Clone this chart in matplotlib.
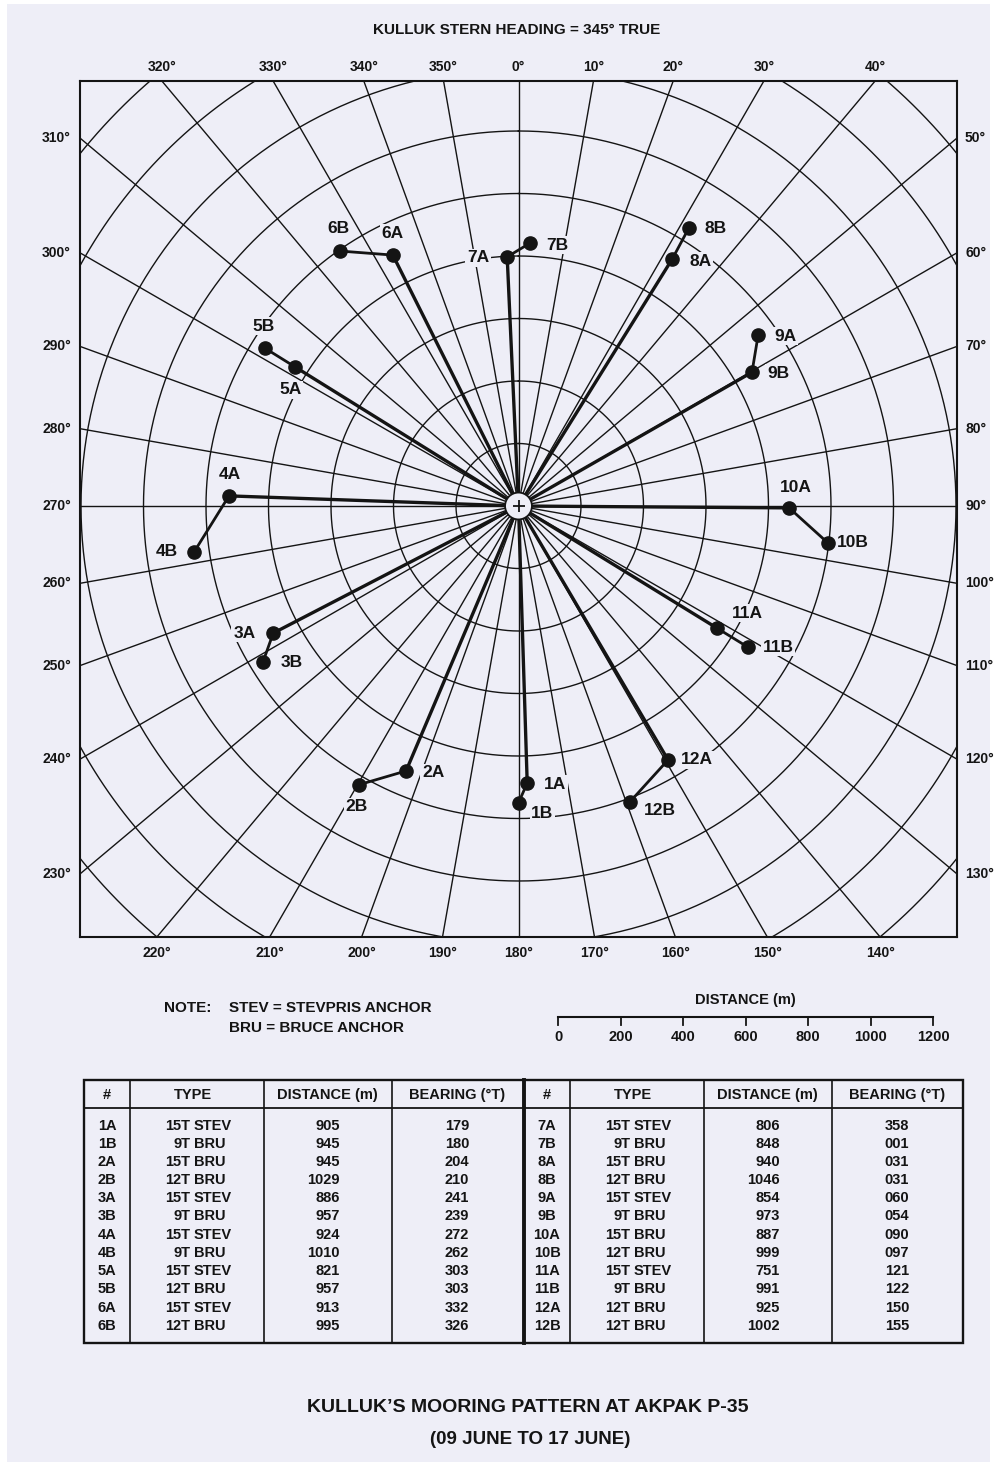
import numpy as np
import matplotlib.pyplot as plt
from matplotlib.patches import Rectangle, Circle

plt.rcParams['font.family'] = ['Liberation Sans', 'DejaVu Sans']

W, H = 997, 1468
bg = '#eeeef7'
ink = '#141414'

# anchor table (as printed)
ids = ['1A', '1B', '2A', '2B', '3A', '3B', '4A', '4B', '5A', '5B', '6A', '6B',
       '7A', '7B', '8A', '8B', '9A', '9B', '10A', '10B', '11A', '11B', '12A', '12B']
types = ['15T STEV', '9T BRU', '15T BRU', '12T BRU', '15T STEV', '9T BRU',
         '15T STEV', '9T BRU', '15T STEV', '12T BRU', '15T STEV', '12T BRU',
         '15T STEV', '9T BRU', '15T BRU', '12T BRU', '15T STEV', '9T BRU',
         '15T BRU', '12T BRU', '15T STEV', '9T BRU', '12T BRU', '12T BRU']
table_dist = [905, 945, 945, 1029, 886, 957, 924, 1010, 821, 957, 913, 995,
              806, 848, 940, 1046, 854, 973, 887, 999, 751, 991, 925, 1002]
table_brg = [179, 180, 204, 210, 241, 239, 272, 262, 303, 303, 332, 326,
             358, 1, 31, 31, 60, 54, 90, 97, 121, 122, 150, 155]

# anchor positions as drawn on the chart (metres, degrees true)
plot_dist = [887, 950, 921, 1028, 884, 958, 927, 1049, 842, 956, 898, 996,
             798, 842, 931, 1044, 942, 861, 866, 997, 746, 862, 943, 1012]
plot_brg = [178.2, 180.0, 203.0, 209.8, 242.6, 238.6, 272.0, 261.9, 301.9, 301.9, 333.4, 325.0,
            357.4, 2.5, 31.9, 31.5, 54.5, 60.2, 90.4, 96.8, 121.6, 121.6, 149.5, 159.4]

# label offsets in pixels (x right, y up)
label_off = [(28, -1), (24, -11), (27, -2), (-2, -22), (-29, 0), (29, -1),
             (1, 21), (-27, 1), (-5, -23), (-1, 22), (0, 22), (-2, 23),
             (-29, -1), (27, -2), (28, -2), (27, -1), (27, -1), (26, -1),
             (7, 20), (25, 0), (30, 15), (30, 0), (29, 0), (30, -8)]

grid_brg = list(range(0, 360, 10))
ring_dist = list(range(200, 2001, 200))
scale_ticks = [0, 200, 400, 600, 800, 1000, 1200]

px = 0.3125          # pixels per metre
cx, cy = 518.5, 506  # chart centre in pixels
ax_l, ax_r, ax_t, ax_b = 80, 957, 81, 937

fig = plt.figure(figsize=(W / 100, H / 100), dpi=100)
fig.patch.set_facecolor('white')

# overlay in pixel coordinates for page, notes, table
ov = fig.add_axes([0, 0, 1, 1])
ov.set_xlim(0, W)
ov.set_ylim(H, 0)
ov.axis('off')
ov.set_zorder(0)
ov.add_patch(Rectangle((7, 4), 983, 1458, fc=bg, ec='none', zorder=0))

# ---- polar grid chart ----
ax = fig.add_axes([ax_l / W, 1 - ax_b / H, (ax_r - ax_l) / W, (ax_b - ax_t) / H])
ax.set_zorder(1)
ax.set_xlim((ax_l - cx) / px, (ax_r - cx) / px)
ax.set_ylim((cy - ax_b) / px, (cy - ax_t) / px)
ax.set_facecolor(bg)
ax.set_xticks([])
ax.set_yticks([])
for sp in ax.spines.values():
    sp.set_linewidth(1.5)
    sp.set_color(ink)

R = 3000
for b in grid_brg:
    t = np.radians(b)
    ax.plot([0, R * np.sin(t)], [0, R * np.cos(t)], color=ink, lw=1.0, zorder=1)
a = np.linspace(0, 2 * np.pi, 721)
for r in ring_dist:
    ax.plot(r * np.sin(a), r * np.cos(a), color=ink, lw=1.0, zorder=1)

# bearing labels round the border
x0, x1 = ax.get_xlim()
y0, y1 = ax.get_ylim()
side_fmt = {'top': ((0, 14), 'center'), 'bottom': ((0, -16), 'center'),
            'left': ((-9, 0), 'right'), 'right': ((8, 0), 'left')}
for b in grid_brg:
    s, c = np.sin(np.radians(b)), np.cos(np.radians(b))
    hits = []
    if c > 1e-9:
        hits.append((y1 / c, 'top'))
    if c < -1e-9:
        hits.append((y0 / c, 'bottom'))
    if s > 1e-9:
        hits.append((x1 / s, 'right'))
    if s < -1e-9:
        hits.append((x0 / s, 'left'))
    t, side = min(hits)
    off, ha = side_fmt[side]
    ax.annotate(f'{b}°', (t * s, t * c), xytext=off, textcoords='offset pixels',
                ha=ha, va='center', fontsize=10, fontweight='bold', color=ink,
                annotation_clip=False)

# anchors
pb = np.radians(plot_brg)
xm = np.array(plot_dist) * np.sin(pb)
ym = np.array(plot_dist) * np.cos(pb)
for k in range(0, len(ids), 2):
    i, j = k, k + 1
    if plot_dist[j] < plot_dist[i]:
        i, j = j, i
    ax.plot([0, xm[i]], [0, ym[i]], color=ink, lw=2.4, zorder=4)
    ax.plot([xm[i], xm[j]], [ym[i], ym[j]], color=ink, lw=2.0, zorder=4)
ax.plot(xm, ym, 'o', color=ink, ms=9.5, zorder=5)
for name, x, y, off in zip(ids, xm, ym, label_off):
    ax.annotate(name, (x, y), xytext=off, textcoords='offset pixels', ha='center', va='center',
                fontsize=12.5, fontweight='bold', color=ink, zorder=3,
                bbox=dict(boxstyle='square,pad=0.1', fc=bg, ec='none'))

ax.add_patch(Circle((0, 0), 43, fc=bg, ec=ink, lw=1.3, zorder=6))
ax.plot(0, 0, '+', color=ink, ms=9, mew=1.3, zorder=7)

# ---- texts ----
ov.text(517, 30, 'KULLUK STERN HEADING = 345° TRUE', ha='center', va='center',
        fontsize=11, fontweight='bold', color=ink)
ov.text(164, 1008, 'NOTE:', ha='left', va='center', fontsize=11, fontweight='bold', color=ink)
ov.text(229, 1008, 'STEV = STEVPRIS ANCHOR', ha='left', va='center', fontsize=11,
        fontweight='bold', color=ink)
ov.text(229, 1028, 'BRU = BRUCE ANCHOR', ha='left', va='center', fontsize=11,
        fontweight='bold', color=ink)

# distance scale bar
sb_x, sb_y = 558, 1017
ov.text(sb_x + 600 * px, 1000, 'DISTANCE (m)', ha='center', va='center', fontsize=10.5,
        fontweight='bold', color=ink)
ov.plot([sb_x, sb_x + 1200 * px], [sb_y, sb_y], color=ink, lw=1.5)
for d in scale_ticks:
    xx = sb_x + d * px
    ov.plot([xx, xx], [sb_y, sb_y + 8], color=ink, lw=1.3)
    ov.text(xx, 1037, str(d), ha='center', va='center', fontsize=10.5, fontweight='bold', color=ink)

# ---- table ----
tl, tr, tt, tb = 84, 963, 1080, 1343
ov.add_patch(Rectangle((tl, tt), tr - tl, tb - tt, fc='none', ec=ink, lw=1.7))
ov.plot([tl, tr], [1108, 1108], color=ink, lw=1.3)
half = 440
for xl in [130, 264, 392]:
    for dx in [0, half]:
        ov.plot([xl + dx, xl + dx], [tt, tb], color=ink, lw=1.2)
ov.plot([524, 524], [tt, tb], color=ink, lw=2.8)

headers = ['#', 'TYPE', 'DISTANCE (m)', 'BEARING (°T)']
head_x = [107, 193, 327, 457]
row_y0, row_dy = 1125.5, 18.2
tfs = 10.5
for hx0 in [0, half]:
    for h, hx in zip(headers, head_x):
        ov.text(hx + hx0, 1095, h, ha='center', va='center', fontsize=tfs, fontweight='bold', color=ink)
for n in range(len(ids)):
    hx0 = 0 if n < 12 else half
    y = row_y0 + (n % 12) * row_dy
    ton, kind = types[n].split(' ')
    kw = dict(va='center', fontsize=tfs, fontweight='bold', color=ink)
    ov.text(107 + hx0, y, ids[n], ha='center', **kw)
    ov.text(190 + hx0, y, ton, ha='right', **kw)
    ov.text(194 + hx0, y, kind, ha='left', **kw)
    ov.text(340 + hx0, y, str(table_dist[n]), ha='right', **kw)
    ov.text(457 + hx0, y, f'{table_brg[n]:03d}', ha='center', **kw)

ov.text(528, 1408, 'KULLUK’S MOORING PATTERN AT AKPAK P-35', ha='center', va='center',
        fontsize=14, fontweight='bold', color=ink)
ov.text(530, 1440, '(09 JUNE TO 17 JUNE)', ha='center', va='center', fontsize=13.5,
        fontweight='bold', color=ink)

fig.savefig('out.png', dpi=100, facecolor=fig.get_facecolor())
